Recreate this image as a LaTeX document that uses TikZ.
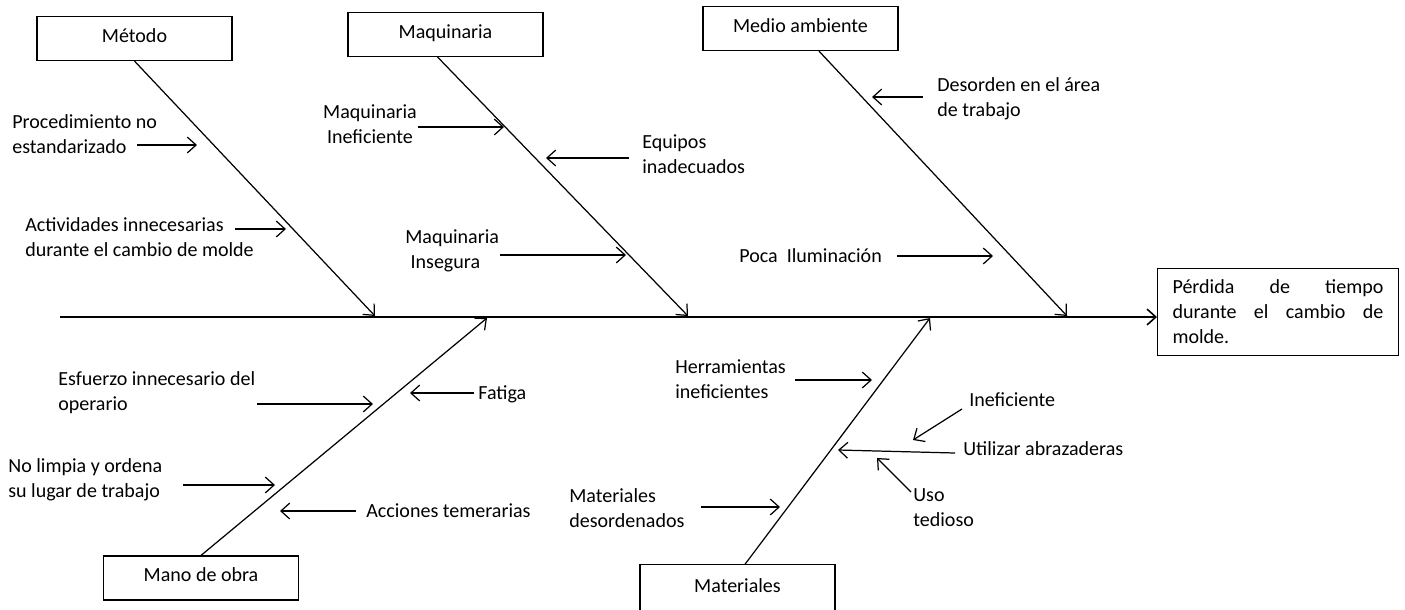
\documentclass[tikz,border=0pt]{standalone}
\usepackage{fontspec}
\setmainfont{Carlito}
\usetikzlibrary{arrows.meta}

\begin{document}
\begin{tikzpicture}[x=0.02cm, y=-0.02cm, >={Straight Barb[length=5pt,width=9pt]},
	every node/.style={font=\fontsize{11.4}{14.2}\selectfont},
	box/.style={draw, line width=0.7pt, minimum width=111pt, minimum height=25pt, inner sep=0pt, text height=8pt, text depth=3.5pt},
	cause/.style={align=left, inner sep=0pt, anchor=west},
	bone/.style={->, line width=0.7pt},
	twig/.style={->, line width=0.7pt}]
	\useasboundingbox (0, 0) rectangle (1405, 609);

	% spine and effect
	\node [draw, line width=0.7pt, anchor=north west, text width=120pt, align=left, inner xsep=8.5pt, inner ysep=6.5pt] (efecto) at (1157, 268)
		{P\'erdida\hfill de\hfill tiempo\\durante\hfill el\hfill cambio\hfill de\\molde.};
	\coordinate (cola) at (60, 317);
	\draw [->, line width=0.9pt] (cola) -- (efecto.west |- cola);

	% categories
	\node [box] (metodo) at (134.5, 38.5) {M\'etodo};
	\node [box] (maquinaria) at (445.5, 34.5) {Maquinaria};
	\node [box] (medio) at (800.5, 28.5) {Medio ambiente};
	\node [box] (mano) at (201, 578) {Mano de obra};
	\node [box, minimum height=27pt] (materiales) at (737.5, 588.5) {Materiales};

	\coordinate (m1) at (375, 316);
	\coordinate (m2) at (688, 316);
	\coordinate (m3) at (1067, 316);
	\coordinate (m4) at (487, 318);
	\coordinate (m5) at (930, 318);
	\draw [bone] (metodo.south) -- (m1);
	\draw [bone] ([xshift=-4.5pt]maquinaria.south) -- (m2);
	\draw [bone] ([xshift=10.5pt]medio.south) -- (m3);
	\draw [bone] (mano.north) -- (m4);
	\draw [bone] ([xshift=4.3pt]materiales.north) -- (m5);

	% causes
	\node [cause] (proc) at (12, 134) {Procedimiento no\\estandarizado};
	\node [cause] (activ) at (25, 237) {Actividades innecesarias\\durante el cambio de molde};
	\node [cause, align=center, anchor=center] (maqinef) at (370, 124) {Maquinaria\\Ineficiente};
	\node [cause] (equipos) at (642, 154) {Equipos\\inadecuados};
	\node [cause] (maqinseg) at (405, 251) {Maquinaria\\\hspace*{3pt}Insegura};
	\node [cause] (desorden) at (937, 99) {Desorden en el \'area\\de trabajo};
	\node [cause] (poca) at (739, 256) {Poca\ \ Iluminaci\'on};
	\node [cause] (esfuerzo) at (58, 393) {Esfuerzo innecesario del\\operario};
	\node [cause] (fatiga) at (478, 394) {Fatiga};
	\node [cause] (nolimpia) at (8, 480) {No limpia y ordena\\su lugar de trabajo};
	\node [cause] (acciones) at (366, 511) {Acciones temerarias};
	\node [cause] (herram) at (675, 379) {Herramientas\\ineficientes};
	\node [cause] (inef) at (969, 400) {Ineficiente};
	\node [cause] (utilizar) at (963, 449) {Utilizar abrazaderas};
	\node [cause] (uso) at (913, 508) {Uso\\tedioso};
	\node [cause] (matdes) at (569, 508) {Materiales\\desordenados};

	\draw [twig] (137, 145) -- (197, 145);
	\draw [twig] (235, 229) -- (286, 229);
	\draw [twig] (418, 127) -- (504, 127);
	\draw [twig] (629, 158) -- (546, 158);
	\draw [twig] (500, 255) -- (626, 255);
	\draw [twig] (923, 97) -- (872, 97);
	\draw [twig] (897, 256) -- (993, 256);
	\draw [twig] (257, 404) -- (373, 404);
	\draw [twig] (474, 393) -- (410, 393);
	\draw [twig] (183, 485) -- (275, 485);
	\draw [twig] (356, 511) -- (280, 511);
	\draw [twig] (795, 380) -- (872, 380);
	\draw [twig] (962, 409) -- (913, 440);
	\draw [twig] (955, 453) -- (838, 450);
	\draw [twig] (911, 492) -- (877, 458);
	\draw [twig] (701, 507) -- (780, 507);
\end{tikzpicture}
\end{document}
